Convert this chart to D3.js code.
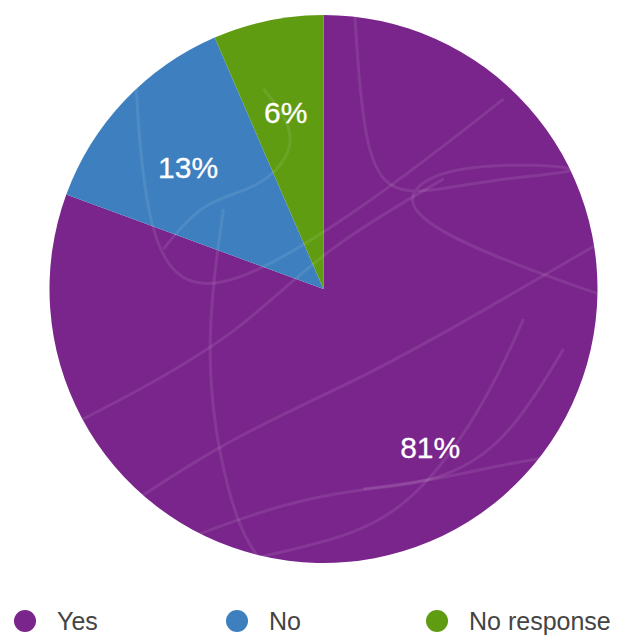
<!DOCTYPE html>
<html>
<head>
<meta charset="utf-8">
<script src="https://cdn.jsdelivr.net/npm/d3@7"></script>
<style>
  body { margin: 0; background: #fff; }
  svg { display: block; }
</style>
</head>
<body>
<div id="chart"></div>
<script>
// answers to the survey question, share of respondents (%)
var categories = ["Yes", "No", "No response"];
var shares = [80.6, 12.9, 6.5];
var labels = ["81%", "13%", "6%"];
var colors = ["#7a258c", "#3d7fbf", "#5f9c11"];

var width = 640, height = 635;
var cx = 323.5, cy = 289, radius = 274;

var svg = d3.select("#chart").append("svg")
  .attr("width", width)
  .attr("height", height);

var rows = categories.map(function(c, i) {
  return { name: c, value: shares[i], label: labels[i], color: colors[i] };
});

var pie = d3.pie()
  .sort(null)
  .value(function(d) { return d.value; });

var arc = d3.arc()
  .innerRadius(0)
  .outerRadius(radius);

var labelArc = d3.arc()
  .innerRadius(radius * 0.68)
  .outerRadius(radius * 0.68);

var g = svg.append("g")
  .attr("transform", "translate(" + cx + "," + cy + ")");

g.append("clipPath")
  .attr("id", "pie-clip")
  .append("circle")
  .attr("r", radius);

g.selectAll("path.slice")
  .data(pie(rows))
  .enter()
  .append("path")
  .attr("class", "slice")
  .attr("d", arc)
  .attr("fill", function(d) { return d.data.color; });

// faint swirl texture laid over the pie (decoration only)
var swirls = [
  [[-190, -260], [-180, -40], [-120, 20], [40, -80], [180, -190]],
  [[30, -300], [40, -120], [80, -90], [160, -110], [300, -120], [120, -130], [60, -80], [200, -20], [320, 20]],
  [[-300, 160], [-180, 100], [-80, 40], [0, -40], [120, -110]],
  [[-260, 260], [-100, 150], [40, 90], [180, 10], [300, -60]],
  [[-100, -80], [-120, 60], [-100, 200], [-60, 300], [60, 320]],
  [[200, 30], [160, 120], [80, 230], [-20, 260], [-220, 300]],
  [[40, 200], [120, 190], [200, 170], [300, 160]],
  [[-60, -200], [-20, -150], [-60, -100], [-120, -90], [-160, -40]],
  [[240, 60], [180, 160], [100, 200], [-20, 200], [-260, 300]]
];

var swirlLine = d3.line().curve(d3.curveBasis);

g.append("g")
  .attr("clip-path", "url(#pie-clip)")
  .selectAll("path")
  .data(swirls)
  .enter()
  .append("path")
  .attr("d", swirlLine)
  .attr("fill", "none")
  .attr("stroke", "#ffffff")
  .attr("stroke-opacity", 0.09)
  .attr("stroke-width", 3);

g.selectAll("text.pct")
  .data(pie(rows))
  .enter()
  .append("text")
  .attr("class", "pct")
  .attr("transform", function(d) {
    var c = labelArc.centroid(d);
    return "translate(" + c[0] + "," + (c[1] + 6) + ")";
  })
  .attr("text-anchor", "middle")
  .attr("dominant-baseline", "central")
  .attr("fill", "#ffffff")
  .attr("stroke", "#ffffff")
  .attr("stroke-width", 0.3)
  .style("font-family", "'Liberation Sans', Arial, sans-serif")
  .style("font-size", "30px")
  .text(function(d) { return d.data.label; });

// legend
var legendX = [25, 237, 437];

var legend = svg.append("g")
  .attr("class", "legend")
  .selectAll("g")
  .data(rows)
  .enter()
  .append("g")
  .attr("transform", function(d, i) {
    return "translate(" + legendX[i] + ",621)";
  });

legend.append("circle")
  .attr("r", 11)
  .attr("fill", function(d) { return d.color; });

legend.append("text")
  .attr("x", 32)
  .attr("y", 0)
  .attr("dominant-baseline", "central")
  .attr("fill", "#444444")
  .style("font-family", "'Liberation Sans', Arial, sans-serif")
  .style("font-size", "25px")
  .text(function(d) { return d.name; });
</script>
</body>
</html>
